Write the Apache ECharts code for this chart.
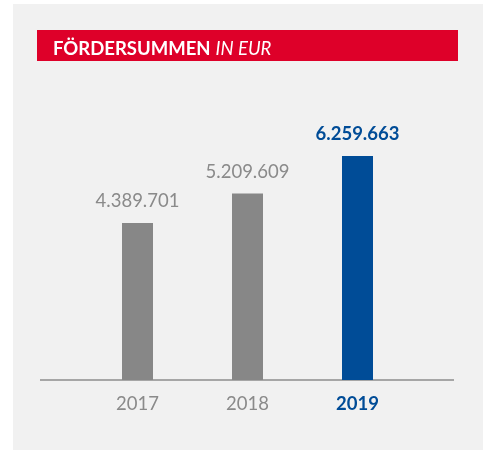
<!DOCTYPE html>
<html>
<head>
<meta charset="utf-8">
<script src="https://cdn.jsdelivr.net/npm/echarts@6/dist/echarts.min.js"></script>
<style>
  html, body { margin: 0; padding: 0; background: #fff; }
  #chart { width: 483px; height: 450px; }
</style>
</head>
<body>
<div id="chart"></div>
<script>
const years = ['2017', '2018', '2019'];
const amounts = [4389701, 5209609, 6259663];
const highlight = [false, false, true];

const grey = '#878787'
const blue = '#004c97'

function fmt(v) {
  return String(v).replace(/\B(?=(\d{3})+(?!\d))/g, '.');
}

const chart = echarts.init(document.getElementById('chart'));

const barData = amounts.map((v, i) => ({
  value: v,
  itemStyle: { color: highlight[i] ? blue : grey },
  label: {
    color: highlight[i] ? blue : '#8a8a8a',
    fontWeight: highlight[i] ? 'bold' : 'normal'
  }
}));

chart.setOption({
  backgroundColor: '#ffffff',
  animation: false,
  graphic: [
    { type: 'rect', z: -10, shape: { x: 13, y: 4, width: 470, height: 446 }, style: { fill: '#f1f1f1' } },
    { type: 'rect', z: -5, shape: { x: 37, y: 30, width: 421, height: 31 }, style: { fill: '#de0029' } },
    { type: 'line', shape: { x1: 40, y1: 380, x2: 454, y2: 380 }, style: { stroke: '#8c8c8c', lineWidth: 1.5 } }
  ],
  title: {
    left: 48,
    top: 35,
    text: '{b|FÖRDERSUMMEN} {i|IN EUR}',
    textStyle: {
      rich: {
        b: { fontFamily: 'Lato', fontWeight: 'bold', fontSize: 18.5, color: '#fff' },
        i: { fontFamily: 'Lato', fontStyle: 'italic', fontWeight: 'normal', fontSize: 18.5, color: '#fff' }
      }
    }
  },
  grid: { left: 82.5, width: 330, top: 129.5, bottom: 70 },
  xAxis: {
    type: 'category',
    data: years,
    axisLine: { show: false },
    axisTick: { show: false },
    axisLabel: {
      margin: 15,
      formatter: (v, i) => highlight[i] ? '{h|' + v + '}' : '{n|' + v + '}',
      rich: {
        n: { fontFamily: 'Lato', fontSize: 18.5, color: '#8a8a8a', fontWeight: 'normal' },
        h: { fontFamily: 'Lato', fontSize: 18.5, color: blue, fontWeight: 'bold' }
      }
    }
  },
  yAxis: {
    type: 'value',
    min: 0,
    max: 7000000,
    show: false,
    splitLine: { show: false }
  },
  series: [{
    type: 'bar',
    barWidth: 31,
    data: barData,
    label: {
      show: true,
      position: 'top',
      distance: 12,
      fontFamily: 'Lato',
      fontSize: 18.5,
      formatter: p => fmt(p.value)
    }
  }]
});
</script>
</body>
</html>
